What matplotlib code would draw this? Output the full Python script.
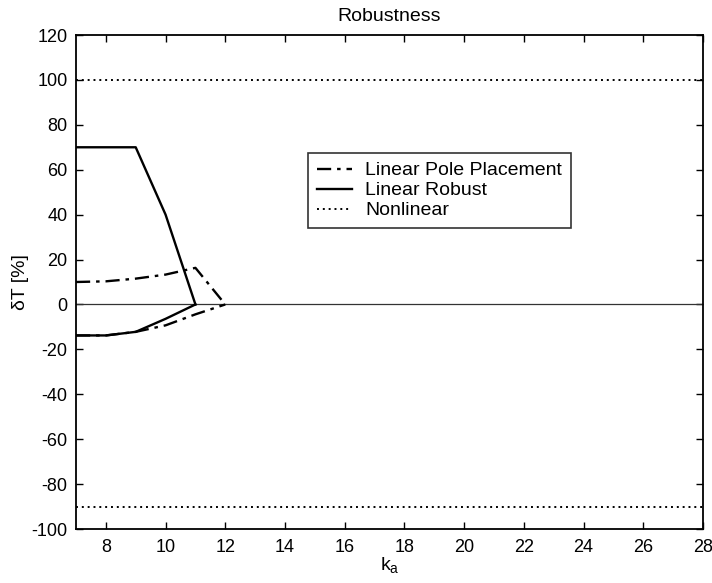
import numpy as np
import matplotlib
matplotlib.use("Agg")
import matplotlib.pyplot as plt

plt.rcParams['font.family'] = ['Liberation Sans', 'DejaVu Sans']
plt.rcParams['axes.unicode_minus'] = False

# gain values
ka = [7, 8, 9, 10, 11, 12]

# Linear pole placement bounds
pp_upper = [10, 10.3, 11.5, 13.3, 16.3, 0]
pp_lower = [-13.8, -13.8, -12.2, -9.3, -4.4, 0]
pp_x = ka

# Linear robust bounds
rob_x = [7, 8, 9, 10, 11]
rob_upper = [70, 70, 70, 40, 0]
rob_lower = [-13.8, -13.8, -12.2, -6.4, 0]

# Nonlinear bounds
nl_x = [7, 28]
nl_upper = [100, 100]
nl_lower = [-90, -90]

fig = plt.figure(figsize=(7.12, 5.83), dpi=100)
ax = fig.add_axes([76/712, 1-529/583, 627/712, 494/583])

dashdot = (0, (6, 2.5, 1.5, 2.5))
ax.axhline(0, color='#333333', lw=0.9)
l1, = ax.plot(pp_x, pp_upper, color='black', lw=1.7, ls=dashdot,
              label='Linear Pole Placement')
ax.plot(pp_x, pp_lower, color='black', lw=1.7, ls=dashdot)
l2, = ax.plot(rob_x, rob_upper, color='black', lw=1.7, label='Linear Robust')
ax.plot(rob_x, rob_lower, color='black', lw=1.7)
l3, = ax.plot(nl_x, nl_upper, color='black', lw=1.4, ls=(0, (1, 2)), label='Nonlinear')
ax.plot(nl_x, nl_lower, color='black', lw=1.4, ls=(0, (1, 2)))

ax.set_xlim(7, 28)
ax.set_ylim(-100, 120)
ax.set_xticks(np.arange(8, 29, 2))
ax.set_yticks(np.arange(-100, 121, 20))
ax.tick_params(direction='in', top=True, right=True, length=5, width=1,
               labelsize=13)
ax.tick_params(axis='y', pad=6)
ax.tick_params(axis='x', pad=7)
for s in ax.spines.values():
    s.set_linewidth(1.3)

ax.set_title('Robustness', fontsize=14, pad=10)
ax.set_xlabel('k$_\\mathregular{a}$', fontsize=14, labelpad=0)
ax.set_ylabel('\u03b4T [%]', fontsize=14, labelpad=2)

leg = ax.legend(handles=[l1, l2, l3], loc='upper left',
                bbox_to_anchor=(0.37, 0.761), fontsize=14, frameon=True,
                fancybox=False, edgecolor='black', handlelength=1.8,
                borderpad=0.45, labelspacing=0.12, handletextpad=0.7,
                borderaxespad=0)
leg.get_frame().set_linewidth(1.2)

fig.savefig('out.png', dpi=100)
